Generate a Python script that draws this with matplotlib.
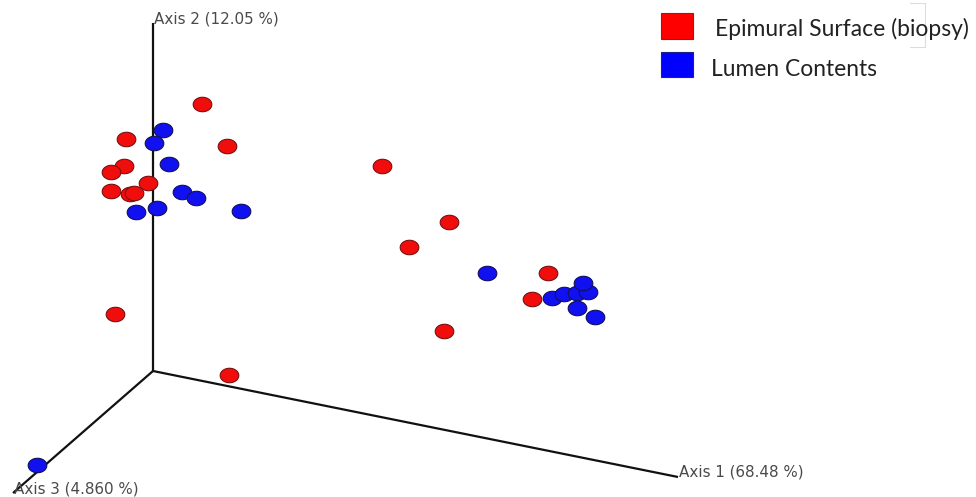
import numpy as np
import matplotlib
matplotlib.use("Agg")
import matplotlib.pyplot as plt
from matplotlib.path import Path
from matplotlib.patches import Rectangle

# Projected (screen) positions of the PCoA samples
epimural_x = [202, 227, 126, 124, 111, 148, 111, 130, 134, 382, 449, 409, 548, 532, 444, 115, 229]
epimural_y = [104, 146, 139, 166, 172, 183, 191, 194, 193, 166, 222, 247, 273, 299, 331, 314, 375]
lumen_x = [163, 154, 169, 182, 196, 157, 136, 241, 487, 552, 564, 577, 588, 583, 577, 595, 37]
lumen_y = [130, 143, 164, 192, 198, 208, 212, 211, 273, 298, 294, 293, 292, 283, 308, 317, 465]

series_labels = ["Epimural Surface (biopsy)", "Lumen Contents"]
axis_labels = ["Axis 1 (68.48 %)", "Axis 2 (12.05 %)", "Axis 3 (4.860 %)"]

# 3D axis geometry (screen projection)
origin = (153, 371)
axis_ends = [(678, 477), (153, 23), (13, 493)]

fig = plt.figure(figsize=(9.76, 4.97), dpi=100)
ax = fig.add_axes([0, 0, 1, 1])
ax.set_xlim(0, 976)
ax.set_ylim(497, 0)
ax.axis("off")

for (ex, ey) in axis_ends:
    ax.plot([origin[0], ex], [origin[1], ey], color="#111111", lw=1.6,
            solid_capstyle="butt", zorder=1)

lab_kw = dict(fontsize=10.9, color="#4a4a4a", ha="left", va="center", family="DejaVu Sans")
ax.text(axis_ends[1][0] + 1, axis_ends[1][1] - 4, axis_labels[1], **lab_kw)
ax.text(axis_ends[0][0] + 1, axis_ends[0][1] - 5, axis_labels[0], **lab_kw)
ax.text(axis_ends[2][0] + 1, axis_ends[2][1] - 4, axis_labels[2], **lab_kw)

# ellipse marker
t = np.linspace(0, 2 * np.pi, 60)
verts = np.column_stack([np.cos(t) * 9, np.sin(t) * 7])
ell = Path(verts, closed=True)

ax.scatter(epimural_x, epimural_y, marker=ell, s=180, c="#F20D0D",
           edgecolors="#7a1010", linewidths=0.8, zorder=3)
ax.scatter(lumen_x, lumen_y, marker=ell, s=180, c="#1010F0",
           edgecolors="#10105a", linewidths=0.8, zorder=3)

# legend
ax.add_patch(Rectangle((661, 13), 32, 26, facecolor="#FF0000", edgecolor="#8a2020", lw=0.8, zorder=4))
ax.add_patch(Rectangle((661, 52), 32, 25, facecolor="#0000FF", edgecolor="#202080", lw=0.8, zorder=4))
ax.text(715, 29, series_labels[0], fontsize=16.5, color="#222222", ha="left", va="center", family="Lato")
ax.text(711, 69, series_labels[1], fontsize=16.4, color="#222222", ha="left", va="center", family="Lato")

# faint frame remnant at top right
ax.plot([910, 925, 925, 910], [3, 3, 47, 47], color="#dddddd", lw=0.8, zorder=0)

fig.savefig("out.png", dpi=100)
